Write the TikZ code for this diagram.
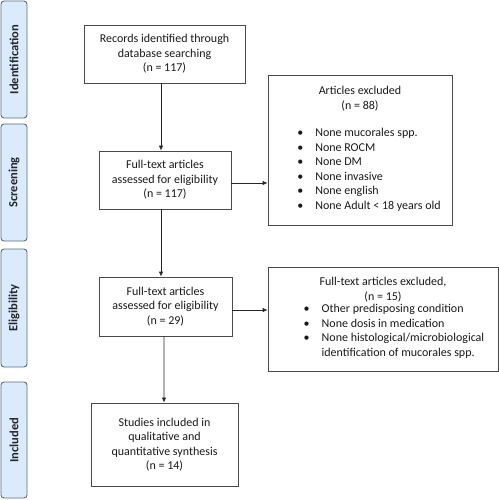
\documentclass[tikz,border=0pt]{standalone}
\usepackage{fontspec}
\setmainfont{Carlito}
\usetikzlibrary{arrows.meta}
\definecolor{phasefill}{HTML}{DAEBFD}
\definecolor{phaseline}{HTML}{5F6D7A}
\definecolor{boxline}{HTML}{4A4A4A}
\begin{document}
\begin{tikzpicture}[x={(1bp,0)}, y={(0,-1bp)},
	every node/.style={font=\fontsize{12bp}{14.5bp}\selectfont, text=black!90},
	box/.style={draw=boxline, line width=0.8bp, align=center, inner sep=0pt},
	phase/.style={draw=phaseline, fill=phasefill, line width=0.9bp, rounded corners=3bp, minimum width=26bp, inner sep=0pt},
	phasetext/.style={rotate=90, font=\fontsize{12.5bp}{14bp}\selectfont\bfseries, text=black!85},
	arr/.style={-{Latex[length=5bp,width=4.5bp]}, draw=black!85, line width=0.8bp}]
	
	\useasboundingbox (0,0) rectangle (499,500);
	
	%phase labels on the left
	\node[phase, minimum height=117bp] (pid) at (14,59.5) {};
	\node[phasetext] (tid) at (pid.center) {Identification};
	\node[phase, minimum height=117bp] (pscr) at (14,182.5) {};
	\node[phasetext] (tscr) at (pscr.center) {Screening};
	\node[phase, minimum height=118bp] (pelig) at (14,308) {};
	\node[phasetext] (telig) at (pelig.center) {Eligibility};
	\node[phase, minimum height=116bp] (pincl) at (14,440) {};
	\node[phasetext] (tincl) at (pincl.center) {Included};
	
	%main column
	\node[box, minimum width=161bp, minimum height=58bp] (rec) at (164.5,54) {Records identified through\\database searching\\(n = 117)};
	\node[box, minimum width=132bp, minimum height=58bp] (scr) at (165,180) {Full-text articles\\assessed for eligibility\\(n = 117)};
	\node[box, minimum width=133bp, minimum height=59bp] (elig) at (165.5,306.5) {Full-text articles\\assessed for eligibility\\(n = 29)};
	\node[box, minimum width=147bp, minimum height=83bp] (incl) at (164.5,444.5) {Studies included in\\qualitative and\\quantitative synthesis\\(n = 14)};
	
	%excluded boxes
	\node[box, minimum width=184bp, minimum height=150bp] (exa) at (360,150) {Articles excluded\\(n = 88)\\[15bp]
		\hspace*{18bp}\begin{tabular}{@{}l@{\hspace{12bp}}l@{}}
			\textbullet & None mucorales spp.\\
			\textbullet & None ROCM\\
			\textbullet & None DM\\
			\textbullet & None invasive\\
			\textbullet & None english\\
			\textbullet & None Adult < 18 years old
		\end{tabular}};
	\node[box, minimum width=230bp, minimum height=104bp] (exb) at (383,319) {Full-text articles excluded,\\(n = 15)\\
		\hspace*{22bp}\begin{tabular}{@{}l@{\hspace{12bp}}l@{}}
			\textbullet & Other predisposing condition\\
			\textbullet & None dosis in medication\\
			\textbullet & None histological/microbiological\\
			 & identification of mucorales spp.
		\end{tabular}};
	
	%connectors
	\draw[arr] ([xshift=-3.5bp]rec.south) -- ([xshift=-4bp]scr.north);
	\draw[arr] ([xshift=-4bp]scr.south) -- ([xshift=-4.5bp]elig.south |- elig.north);
	\draw[arr] ([xshift=-1.5bp]elig.south) -- ([xshift=-0.5bp]incl.north);
	\draw[arr] ([yshift=-3bp]scr.east) -- ([yshift=-3bp]scr.east -| exa.west);
	\draw[arr] ([yshift=-3.5bp]elig.east) -- ([yshift=-3.5bp]elig.east -| exb.west);
	
\end{tikzpicture}
\end{document}
